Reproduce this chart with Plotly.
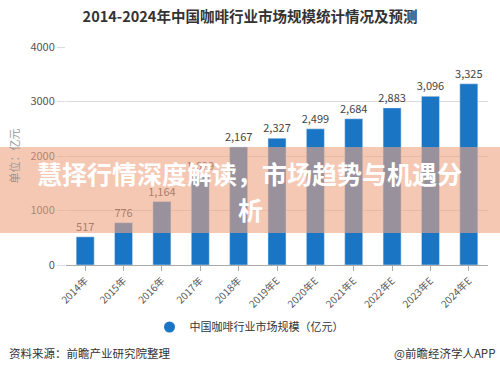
import plotly.graph_objects as go

categories = ["2014年", "2015年", "2016年", "2017年", "2018年", "2019年E",
              "2020年E", "2021年E", "2022年E", "2023年E", "2024年E"]
values = [517, 776, 1164, 1629, 2167, 2327, 2499, 2684, 2883, 3096, 3325]
y_ticks = [0, 1000, 2000, 3000, 4000]

title_text = "2014-2024年中国咖啡行业市场规模统计情况及预测"
series_name = "中国咖啡行业市场规模（亿元）"
y_title = "单位：亿元"
source_text = "资料来源：前瞻产业研究院整理"
credit_text = "@前瞻经济学人APP"
banner_line1 = "慧择行情深度解读，市场趋势与机遇分"
banner_line2 = "析"

FONT = "Noto Sans CJK SC, Noto Sans, sans-serif"
BLUE = "#1a76c4"

W, H = 500, 380
L, R, T, B = 66, 12, 47, 115
PW, PH = W - L - R, H - T - B


def px_x(x):
    return (x - L) / PW


def px_y(y):
    return (H - B - y) / PH


fig = go.Figure()
fig.add_trace(go.Bar(
    x=categories, y=values, marker_color=BLUE, showlegend=False,
    texttemplate="%{y:,.0f}", textposition="outside", cliponaxis=False,
    constraintext="none",
    textfont=dict(size=11, color="#444", family=FONT),
))
fig.add_trace(go.Scatter(
    x=[None], y=[None], mode="markers", name=series_name,
    marker=dict(symbol="circle", size=11, color=BLUE),
))

fig.update_layout(
    width=W, height=H,
    margin=dict(l=L, r=R, t=T, b=B, autoexpand=False),
    paper_bgcolor="white", plot_bgcolor="white",
    font=dict(family=FONT, color="#555"),
    bargap=0.53,
    title=dict(text=f"<b>{title_text}</b>", x=0.5, xanchor="center",
               y=1 - 17 / H, yanchor="middle", xref="container", yref="container",
               font=dict(size=14.5, color="#333", family=FONT)),
    legend=dict(orientation="h", xref="container", yref="container",
                x=249 / W, xanchor="center", y=(H - 327) / H, yanchor="middle",
                font=dict(size=11, color="#333", family=FONT),
                itemwidth=30),
    xaxis=dict(showline=True, linecolor="#aaa", linewidth=1,
               ticks="outside", ticklen=5, tickcolor="#aaa",
               tickangle=-45, tickfont=dict(size=10, color="#555"),
               showgrid=False),
    yaxis=dict(range=[0, 4000], tickvals=y_ticks, tickformat="d",
               showgrid=True, gridcolor="#dcdcdc", gridwidth=1,
               ticks="outside", ticklen=8, tickcolor="#dcdcdc",
               tickfont=dict(size=11, color="#555"), zeroline=False,
               title=dict(text=y_title, standoff=8,
                          font=dict(size=11, color="#999"))),
)

# overlay banner
fig.add_shape(type="rect", xref="paper", yref="paper",
              x0=px_x(0), x1=px_x(W), y0=px_y(233), y1=px_y(147),
              fillcolor="rgba(239,163,130,0.6)", line=dict(width=0),
              layer="above")

fig.add_annotation(text=f"<b>{banner_line1}</b>", xref="paper", yref="paper",
                   x=px_x(249.5), y=px_y(173), showarrow=False,
                   font=dict(size=25, color="white", family=FONT),
                   xanchor="center", yanchor="middle")
fig.add_annotation(text=f"<b>{banner_line2}</b>", xref="paper", yref="paper",
                   x=px_x(250), y=px_y(209), showarrow=False,
                   font=dict(size=25, color="white", family=FONT),
                   xanchor="center", yanchor="middle")

fig.add_annotation(text=source_text, xref="paper", yref="paper",
                   x=px_x(7), y=px_y(353), showarrow=False,
                   xanchor="left", yanchor="middle",
                   font=dict(size=11.5, color="#333", family=FONT))
fig.add_annotation(text=credit_text, xref="paper", yref="paper",
                   x=px_x(497), y=px_y(353), showarrow=False,
                   xanchor="right", yanchor="middle",
                   font=dict(size=11.5, color="#333", family=FONT))

fig.write_html("out.html", config={"displayModeBar": False},
               post_script="document.body.style.margin='0';")
